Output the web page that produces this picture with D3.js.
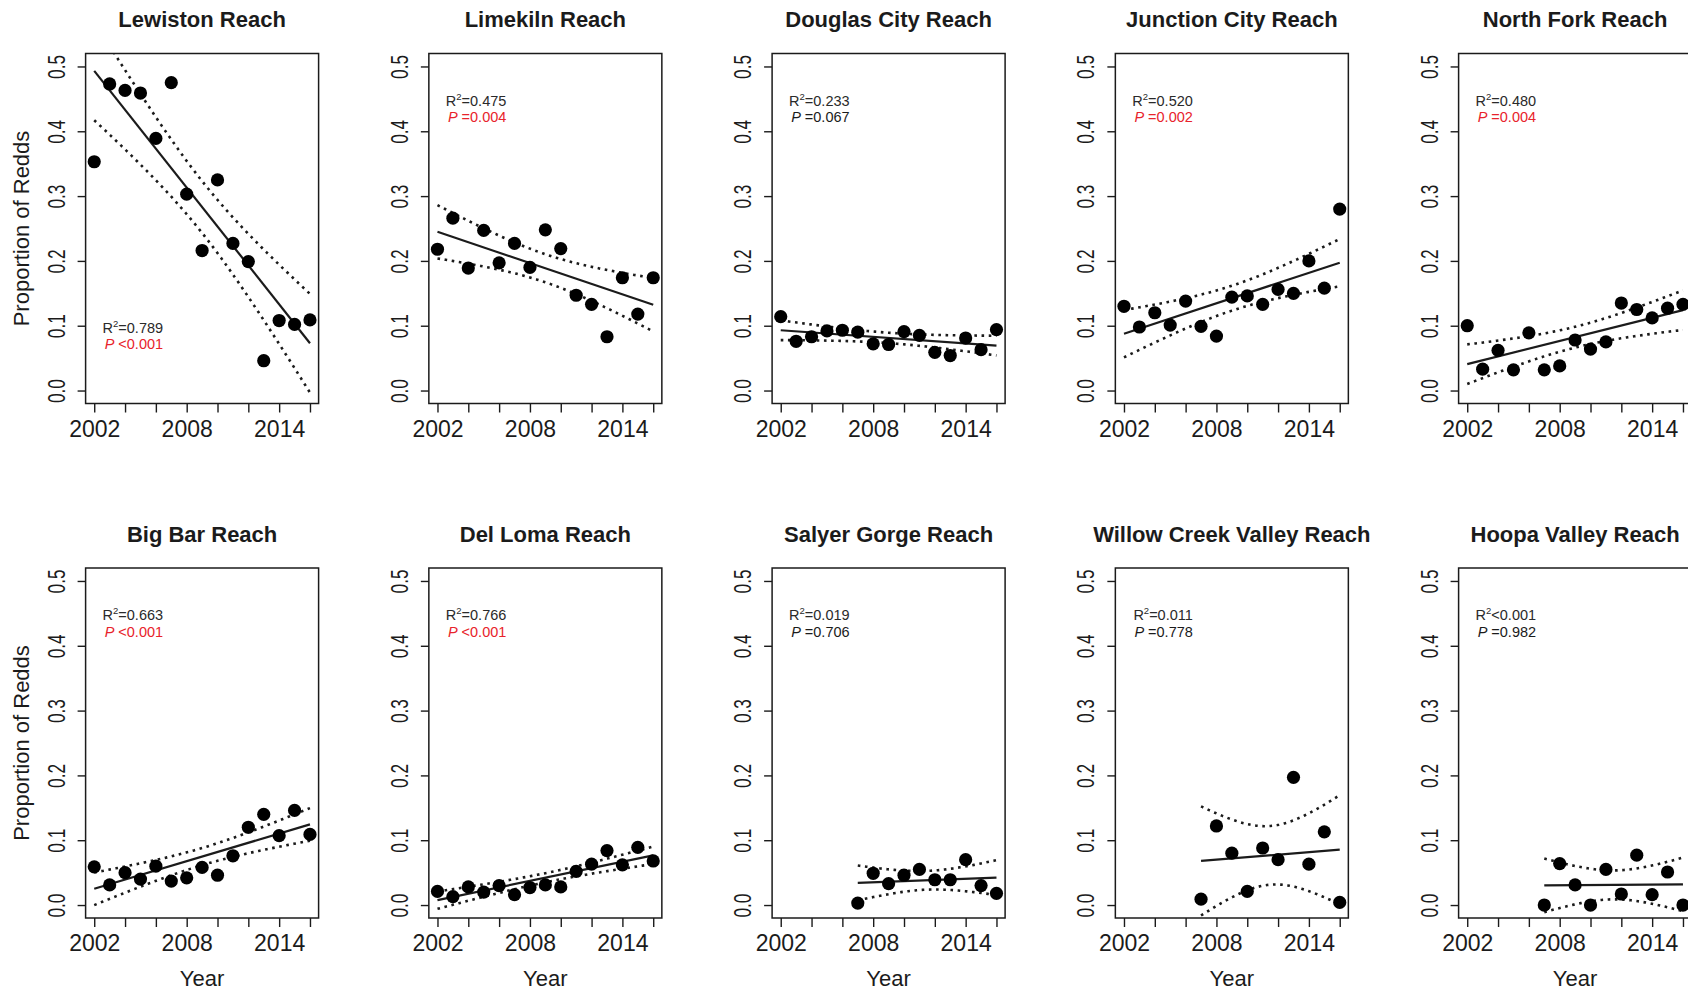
<!DOCTYPE html>
<html>
<head>
<meta charset="utf-8">
<script src="https://cdn.jsdelivr.net/npm/d3@7"></script>
<style>
  html, body { margin: 0; padding: 0; background: #fff; }
  svg { display: block; font-family: "Liberation Sans", Arial, Helvetica, sans-serif; }
</style>
</head>
<body>
<svg id="chart" width="1688" height="991"></svg>
<script>
// ---- Data: proportion of redds per reach and year ----
const reaches = [
  "Lewiston Reach", "Limekiln Reach", "Douglas City Reach", "Junction City Reach", "North Fork Reach",
  "Big Bar Reach", "Del Loma Reach", "Salyer Gorge Reach", "Willow Creek Valley Reach", "Hoopa Valley Reach"
];

const yearsAll  = [2002, 2003, 2004, 2005, 2006, 2007, 2008, 2009, 2010, 2011, 2012, 2013, 2014, 2015, 2016];
const yearsLate = [2007, 2008, 2009, 2010, 2011, 2012, 2013, 2014, 2015, 2016];

const lewiston     = [0.353, 0.473, 0.463, 0.459, 0.389, 0.475, 0.303, 0.216, 0.325, 0.227, 0.199, 0.046, 0.108, 0.102, 0.109];
const limekiln     = [0.218, 0.266, 0.189, 0.247, 0.197, 0.227, 0.190, 0.248, 0.219, 0.147, 0.133, 0.083, 0.174, 0.118, 0.174];
const douglasCity  = [0.114, 0.076, 0.083, 0.092, 0.093, 0.090, 0.072, 0.071, 0.091, 0.085, 0.059, 0.054, 0.081, 0.063, 0.094];
const junctionCity = [0.130, 0.098, 0.120, 0.101, 0.138, 0.099, 0.084, 0.144, 0.146, 0.133, 0.156, 0.150, 0.200, 0.158, 0.280];
const northFork    = [0.100, 0.033, 0.062, 0.032, 0.089, 0.032, 0.038, 0.078, 0.064, 0.075, 0.135, 0.125, 0.112, 0.127, 0.133];
const bigBar       = [0.059, 0.031, 0.050, 0.040, 0.060, 0.037, 0.042, 0.058, 0.046, 0.076, 0.120, 0.140, 0.107, 0.146, 0.109];
const delLoma      = [0.021, 0.013, 0.028, 0.020, 0.030, 0.016, 0.027, 0.031, 0.028, 0.052, 0.063, 0.084, 0.062, 0.089, 0.068];
const salyerGorge  = [0.003, 0.049, 0.033, 0.046, 0.055, 0.039, 0.039, 0.070, 0.030, 0.018];
const willowCreek  = [0.009, 0.122, 0.080, 0.021, 0.088, 0.070, 0.197, 0.063, 0.113, 0.004];
const hoopaValley  = [0.000, 0.064, 0.031, 0.000, 0.055, 0.017, 0.077, 0.016, 0.051, 0.000];

const seriesValues = [lewiston, limekiln, douglasCity, junctionCity, northFork,
                      bigBar, delLoma, salyerGorge, willowCreek, hoopaValley];
const seriesYears  = [yearsAll, yearsAll, yearsAll, yearsAll, yearsAll,
                      yearsAll, yearsAll, yearsLate, yearsLate, yearsLate];

// Regression statistics printed in each panel
const r2Labels = ["=0.789", "=0.475", "=0.233", "=0.520", "=0.480", "=0.663", "=0.766", "=0.019", "=0.011", "<0.001"];
const pLabels  = ["<0.001", "=0.004", "=0.067", "=0.002", "=0.004", "<0.001", "<0.001", "=0.706", "=0.778", "=0.982"];

// Axis ticks
const xTicks      = [2002, 2004, 2006, 2008, 2010, 2012, 2014, 2016];
const xTickLabels = ["2002", "", "", "2008", "", "", "2014", ""];
const yTicks      = [0.0, 0.1, 0.2, 0.3, 0.4, 0.5];

// Student t critical values (two-sided 95%) by residual degrees of freedom
const tCritical = { 8: 2.306, 13: 2.160 };

// ---- Layout ----
const svg = d3.select("#chart");
const boxLeft0 = 85.6, colPitch = 343.25, boxW = 233, boxH = 350;
const rowTops = [53.5, 568];
const titleBaselines = [26.7, 541.5];
const ink = "#1b1b1b";
const sigRed = "#e8232b";

function linearFit(xs, ys) {
  const n = xs.length;
  const mx = d3.mean(xs), my = d3.mean(ys);
  let sxx = 0, sxy = 0;
  xs.forEach((x, i) => { sxx += (x - mx) ** 2; sxy += (x - mx) * (ys[i] - my); });
  const b = sxy / sxx, a = my - b * mx;
  let sse = 0;
  xs.forEach((x, i) => { sse += (ys[i] - (a + b * x)) ** 2; });
  const s = Math.sqrt(sse / (n - 2));
  const t = tCritical[n - 2];
  const pred = x => a + b * x;
  const half = x => t * s * Math.sqrt(1 / n + (x - mx) ** 2 / sxx);
  return { pred, half };
}

reaches.forEach((name, i) => {
  const row = Math.floor(i / 5), col = i % 5;
  const left = boxLeft0 + col * colPitch;
  const top = rowTops[row];

  const x = d3.scaleLinear().domain([2001.44, 2016.56]).range([left, left + boxW]);
  const y = d3.scaleLinear().domain([-0.02, 0.52]).range([top + boxH, top]);

  const g = svg.append("g");
  const clipId = "clip" + i;
  g.append("clipPath").attr("id", clipId)
    .append("rect").attr("x", left).attr("y", top).attr("width", boxW).attr("height", boxH);

  // Title
  g.append("text")
    .attr("x", left + boxW / 2).attr("y", titleBaselines[row])
    .attr("text-anchor", "middle")
    .attr("font-weight", "bold").attr("font-size", 22).attr("fill", ink)
    .text(name);

  // X axis
  const xAxis = d3.axisBottom(x).tickValues(xTicks)
    .tickFormat((d, k) => xTickLabels[k]).tickSizeOuter(0).tickSize(9).tickPadding(8);
  const gx = g.append("g").attr("transform", `translate(0,${top + boxH})`).call(xAxis);
  gx.select(".domain").remove();
  gx.selectAll(".tick line").attr("stroke", ink).attr("stroke-width", 1.4);
  gx.selectAll(".tick text").attr("font-size", 23).attr("fill", ink)
    .attr("font-family", "'Liberation Sans', Arial, sans-serif")
    .attr("dy", null).attr("y", 0)
    .attr("transform", "translate(0,33)");

  // Y axis (labels parallel to the axis)
  const yAxis = d3.axisLeft(y).tickValues(yTicks).tickFormat(d3.format(".1f"))
    .tickSizeOuter(0).tickSize(8);
  const gy = g.append("g").attr("transform", `translate(${left},0)`).call(yAxis);
  gy.select(".domain").remove();
  gy.selectAll(".tick line").attr("stroke", ink).attr("stroke-width", 1.4);
  gy.selectAll(".tick text")
    .attr("font-size", 23).attr("fill", ink)
    .attr("font-family", "'Liberation Sans', Arial, sans-serif")
    .attr("text-anchor", "middle")
    .attr("x", 0).attr("y", -21).attr("dy", null)
    .attr("transform", "rotate(-90)")
    .attr("textLength", 24).attr("lengthAdjust", "spacingAndGlyphs");

  // Plot box
  g.append("rect")
    .attr("x", left).attr("y", top).attr("width", boxW).attr("height", boxH)
    .attr("fill", "none").attr("stroke", ink).attr("stroke-width", 1.5);

  // Axis titles
  if (col === 0) {
    g.append("text")
      .attr("transform", `translate(29,${top + boxH / 2}) rotate(-90)`)
      .attr("text-anchor", "middle").attr("font-size", 22).attr("fill", ink)
      .text("Proportion of Redds");
  }
  if (row === 1) {
    g.append("text")
      .attr("x", left + boxW / 2).attr("y", 985.5)
      .attr("text-anchor", "middle").attr("font-size", 22).attr("fill", ink)
      .text("Year");
  }

  // Regression line with 95% confidence band of the mean
  const yrs = seriesYears[i], vals = seriesValues[i];
  const fit = linearFit(yrs, vals);
  const x0 = d3.min(yrs), x1 = d3.max(yrs);
  const grid = d3.range(0, 81).map(k => x0 + (x1 - x0) * k / 80);
  const line = d3.line().x(d => x(d[0])).y(d => y(d[1]));
  const plot = g.append("g").attr("clip-path", `url(#${clipId})`);

  plot.append("path")
    .attr("d", line(grid.map(v => [v, fit.pred(v) + fit.half(v)])))
    .attr("fill", "none").attr("stroke", ink).attr("stroke-width", 2.6)
    .attr("stroke-dasharray", "2.6 4.6");
  plot.append("path")
    .attr("d", line(grid.map(v => [v, fit.pred(v) - fit.half(v)])))
    .attr("fill", "none").attr("stroke", ink).attr("stroke-width", 2.6)
    .attr("stroke-dasharray", "2.6 4.6");
  plot.append("path")
    .attr("d", line([[x0, fit.pred(x0)], [x1, fit.pred(x1)]]))
    .attr("fill", "none").attr("stroke", ink).attr("stroke-width", 2.2);

  // Observations
  g.append("g").selectAll("circle")
    .data(vals.map((v, k) => [yrs[k], v]))
    .join("circle")
    .attr("cx", d => x(d[0])).attr("cy", d => y(d[1]))
    .attr("r", 6.6).attr("fill", "#000");

  // Statistics: upper left, or lower left when the data fill the top of the panel
  const highData = d3.max(vals) > 0.4;
  const rY = highData ? 0.1 : 0.45;
  const pY = rY - 0.025;
  const tx = left + 77.5;
  const pValue = parseFloat(pLabels[i].slice(1));
  const pColor = pValue < 0.05 ? sigRed : ink;

  const rText = g.append("text")
    .attr("x", tx).attr("y", y(rY) + 7)
    .attr("text-anchor", "end").attr("font-size", 14.5).attr("fill", "#2a2a2a");
  rText.append("tspan").text("R");
  rText.append("tspan").attr("font-size", 9.5).attr("dy", -6).text("2");
  rText.append("tspan").attr("dy", 6).text(r2Labels[i]);

  const pText = g.append("text")
    .attr("x", tx).attr("y", y(pY) + 7)
    .attr("text-anchor", "end").attr("font-size", 14.5).attr("fill", pColor);
  pText.append("tspan").attr("font-style", "italic").text("P");
  pText.append("tspan").text(" " + pLabels[i]);
});
</script>
</body>
</html>
